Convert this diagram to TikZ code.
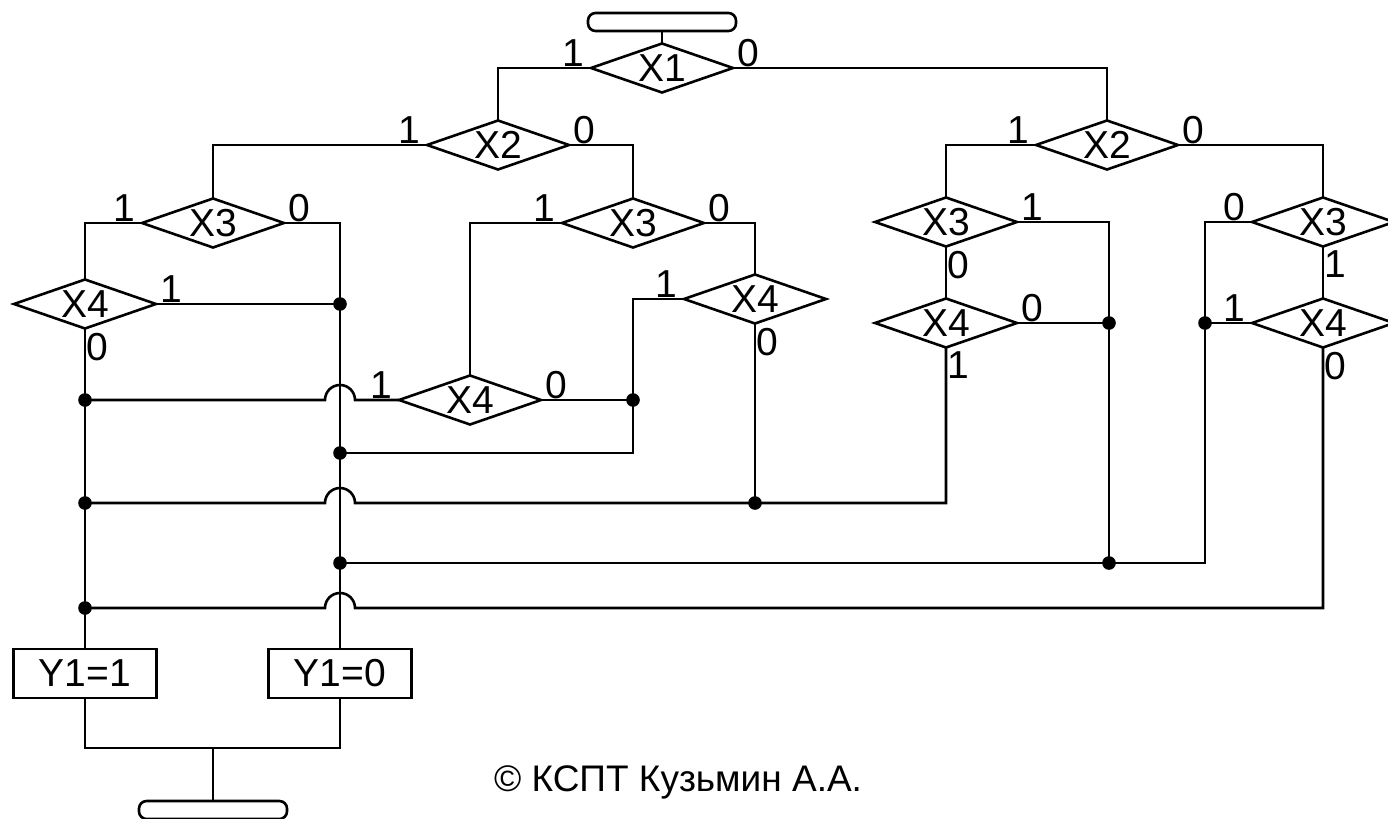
\documentclass[tikz,border=0pt]{standalone}
\usepackage{fontspec}
\setmainfont{Liberation Sans}
\usetikzlibrary{shapes.geometric}
\begin{document}
\begin{tikzpicture}[x=0.5pt,y=-0.5pt,
  line width=1.3pt,
  dec/.style={draw, diamond, aspect=2.9, minimum width=71pt, minimum height=24.5pt,
    inner sep=0pt, outer sep=0pt, font=\fontsize{19.5}{21}\selectfont},
  act/.style={draw, rectangle, minimum width=71.5pt, minimum height=24.5pt,
    inner sep=0pt, outer sep=0pt, font=\fontsize{19.5}{21}\selectfont},
  term/.style={draw, rectangle, rounded corners=3.8pt, minimum width=74pt, minimum height=9pt,
    inner sep=0pt, outer sep=0pt},
  lab/.style={inner sep=0pt, font=\fontsize{19.5}{21}\selectfont},
  labL/.style={lab, anchor=south east, xshift=-3pt},
  labR/.style={lab, anchor=south west, xshift=1.5pt},
  labB/.style={lab, anchor=north west, xshift=0.3pt, yshift=-1.5pt},
  dot/.style={fill=black}
]
\useasboundingbox (0,0) rectangle (1388,819);

% terminals
\node[term] (t1) at (662,22) {};
\node[term] (t2) at (213,810) {};

% decisions
\node[dec] (d1)  at (662,68)   {X1};
\node[dec] (d2a) at (498,145)  {X2};
\node[dec] (d2b) at (1107,145) {X2};
\node[dec] (d3a) at (213,223)  {X3};
\node[dec] (d3b) at (633,223)  {X3};
\node[dec] (d3c) at (946,222)  {X3};
\node[dec] (d3d) at (1323,222) {X3};
\node[dec] (d4a) at (85,304)   {X4};
\node[dec] (d4b) at (470,400)  {X4};
\node[dec] (d4c) at (755,299)  {X4};
\node[dec] (d4d) at (946,323)  {X4};
\node[dec] (d4e) at (1323,323) {X4};

% actions
\node[act] (y1) at (85,673.5)  {Y1=1};
\node[act] (y0) at (340,673.5) {Y1=0};

% copyright
\node[font=\fontsize{18.5}{21}\selectfont, inner sep=0pt] (copy) at (678,782) {© КСПТ Кузьмин А.А.};

% labels
\node[labL] (l1a) at (d1.west) {1};
\node[labR] (l1b) at (d1.east) {0};
\node[labL] (l2a) at (d2a.west) {1};
\node[labR] (l2b) at (d2a.east) {0};
\node[labL] (l2c) at (d2b.west) {1};
\node[labR] (l2d) at (d2b.east) {0};
\node[labL] (l3a) at (d3a.west) {1};
\node[labR] (l3b) at (d3a.east) {0};
\node[labL] (l3c) at (d3b.west) {1};
\node[labR] (l3d) at (d3b.east) {0};
\node[labR] (l3e) at (d3c.east) {1};
\node[labB] (l3f) at (d3c.south) {0};
\node[labL] (l3g) at (d3d.west) {0};
\node[labB] (l3h) at (d3d.south) {1};
\node[labR] (l4a) at (d4a.east) {1};
\node[labB] (l4b) at (d4a.south) {0};
\node[labL] (l4c) at (d4b.west) {1};
\node[labR] (l4d) at (d4b.east) {0};
\node[labL] (l4e) at (d4c.west) {1};
\node[labB] (l4f) at (d4c.south) {0};
\node[labR] (l4g) at (d4d.east) {0};
\node[labB] (l4h) at (d4d.south) {1};
\node[labL] (l4i) at (d4e.west) {1};
\node[labB] (l4j) at (d4e.south) {0};

% junctions
\coordinate (jA) at (340,304);
\coordinate (jB) at (340,453);
\coordinate (jC) at (340,563);
\coordinate (jD) at (85,400);
\coordinate (jE) at (85,503);
\coordinate (jF) at (85,608);
\coordinate (jG) at (633,400);
\coordinate (jH) at (755,503);
\coordinate (jI) at (1109,323);
\coordinate (jJ) at (1109,563);
\coordinate (jK) at (1205,323);
\coordinate (k1) at (633,453);
\coordinate (k2) at (1205,563);
\coordinate (k3) at (946,503);
\coordinate (k4) at (1323,608);
\coordinate (k5) at (213,748);

% tree connectors
\draw (t1) -- (d1);
\draw (d1.west) -| (d2a.north);
\draw (d1.east) -| (d2b.north);
\draw (d2a.west) -| (d3a.north);
\draw (d2a.east) -| (d3b.north);
\draw (d2b.west) -| (d3c.north);
\draw (d2b.east) -| (d3d.north);
\draw (d3a.west) -| (d4a.north);
\draw (d3a.east) -| (jA) -- (y0.north);
\draw (d4a.east) -- (jA);
\draw (d4a.south) -- (y1.north);
\draw (d3b.west) -| (d4b.north);
\draw (d3b.east) -| (d4c.north);
\draw (d3c.south) -- (d4d.north);
\draw (d3d.south) -- (d4e.north);

% merging lines
\draw (jD) -- (325,400) arc[start angle=180, end angle=0, radius=7.5pt] -- (d4b.west);
\draw (d4b.east) -- (jG);
\draw (d4c.west) -| (jG) -- (k1) -- (jB);
\draw (d4c.south) -- (jH);
\draw (d4d.south) -- (k3) -- (jH) -- (355,503) arc[start angle=0, end angle=180, radius=7.5pt] -- (jE);
\draw (d3c.east) -| (jI) -- (jJ);
\draw (d4d.east) -- (jI);
\draw (d3d.west) -| (jK) -- (k2) -- (jJ) -- (jC);
\draw (d4e.west) -- (jK);
\draw (d4e.south) -- (k4) -- (355,608) arc[start angle=0, end angle=180, radius=7.5pt] -- (jF);

% exits
\draw (y1.south) |- (k5) -| (y0.south);
\draw (k5) -- (t2);

% dots
\foreach \j in {jA,jB,jC,jD,jE,jF,jG,jH,jI,jJ,jK}
  \fill[dot] (\j) circle[radius=3.4pt];
\end{tikzpicture}
\end{document}
